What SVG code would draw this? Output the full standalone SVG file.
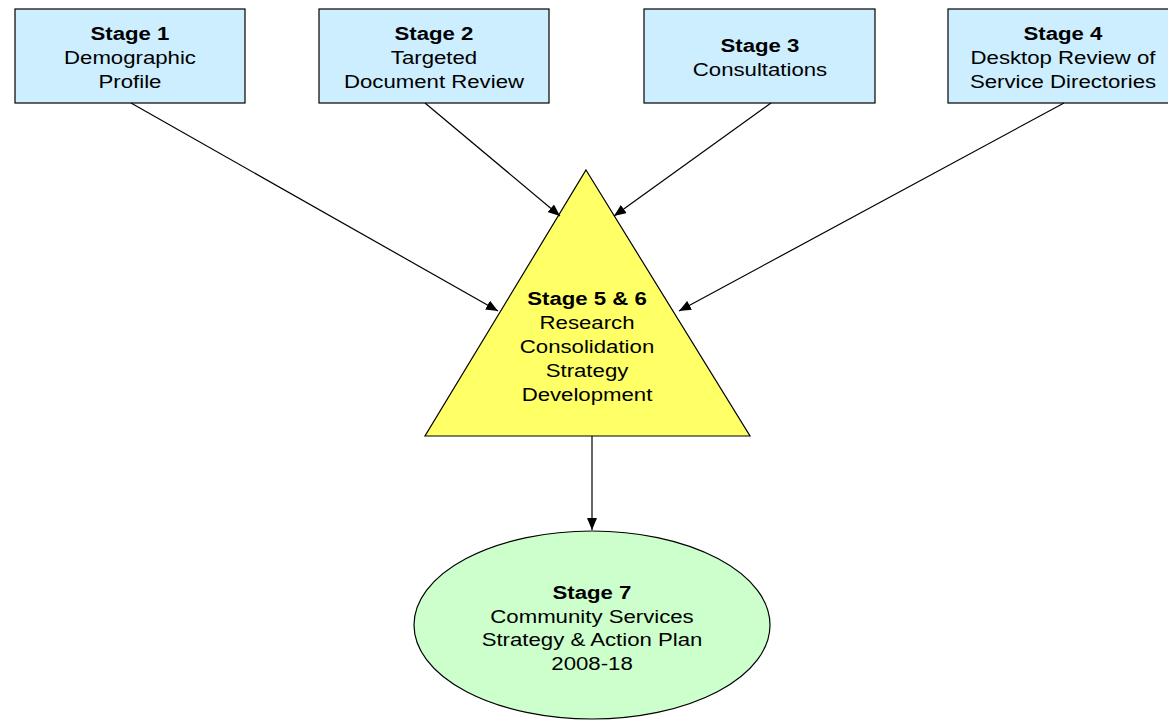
<svg xmlns="http://www.w3.org/2000/svg" width="1168" height="720" viewBox="0 0 1168 720">
<style>
.box{fill:#cceeff;stroke:#000;stroke-width:1.2}
.tri{fill:#ffff66;stroke:#000;stroke-width:1.2}
.ell{fill:#ccffcc;stroke:#000;stroke-width:1.2}
text{font-family:"Liberation Sans",Arial,sans-serif;font-size:18.5px;fill:#000;text-anchor:middle}
.b{font-weight:bold}
.conn line{stroke:#000;stroke-width:1.2;marker-end:url(#ah)}
</style>
<defs>
<marker id="ah" viewBox="0 0 12 10" refX="12" refY="5" markerWidth="12" markerHeight="10" markerUnits="userSpaceOnUse" orient="auto">
<path d="M0,0 L12,5 L0,10 Z" fill="#000"/>
</marker>
</defs>
<rect width="1168" height="720" fill="#fff"/>
<g id="stage1">
<rect class="box" x="15" y="9" width="230" height="94"/>
<g transform="translate(130,0) scale(1.2,1)"><text class="b" x="0" y="40">Stage 1</text><text x="0" y="64">Demographic</text><text x="0" y="88">Profile</text></g>
</g>
<g id="stage2">
<rect class="box" x="319" y="9" width="230" height="94"/>
<g transform="translate(434,0) scale(1.2,1)"><text class="b" x="0" y="40">Stage 2</text><text x="0" y="64">Targeted</text><text x="0" y="88">Document Review</text></g>
</g>
<g id="stage3">
<rect class="box" x="644" y="9" width="231" height="94"/>
<g transform="translate(760,0) scale(1.2,1)"><text class="b" x="0" y="52">Stage 3</text><text x="0" y="76">Consultations</text></g>
</g>
<g id="stage4">
<rect class="box" x="948" y="9" width="230" height="94"/>
<g transform="translate(1063,0) scale(1.2,1)"><text class="b" x="0" y="40">Stage 4</text><text x="0" y="64">Desktop Review of</text><text x="0" y="88">Service Directories</text></g>
</g>
<g id="stage56">
<polygon class="tri" points="586,170 750,436 425,436"/>
<g transform="translate(587,0) scale(1.2,1)"><text class="b" x="0" y="305">Stage 5 &amp; 6</text><text x="0" y="329">Research</text><text x="0" y="353">Consolidation</text><text x="0" y="377">Strategy</text><text x="0" y="401">Development</text></g>
</g>
<g id="stage7">
<ellipse class="ell" cx="592" cy="625" rx="178" ry="94"/>
<g transform="translate(592,0) scale(1.2,1)"><text class="b" x="0" y="599">Stage 7</text><text x="0" y="623">Community Services</text><text x="0" y="646">Strategy &amp; Action Plan</text><text x="0" y="670">2008-18</text></g>
</g>
<g id="connectors" class="conn">
<line x1="131" y1="103" x2="498" y2="311"/>
<line x1="425" y1="103" x2="560" y2="216"/>
<line x1="771" y1="103" x2="614" y2="216"/>
<line x1="1064" y1="103" x2="679" y2="311"/>
<line x1="592" y1="436" x2="592" y2="530"/>
</g>
</svg>
